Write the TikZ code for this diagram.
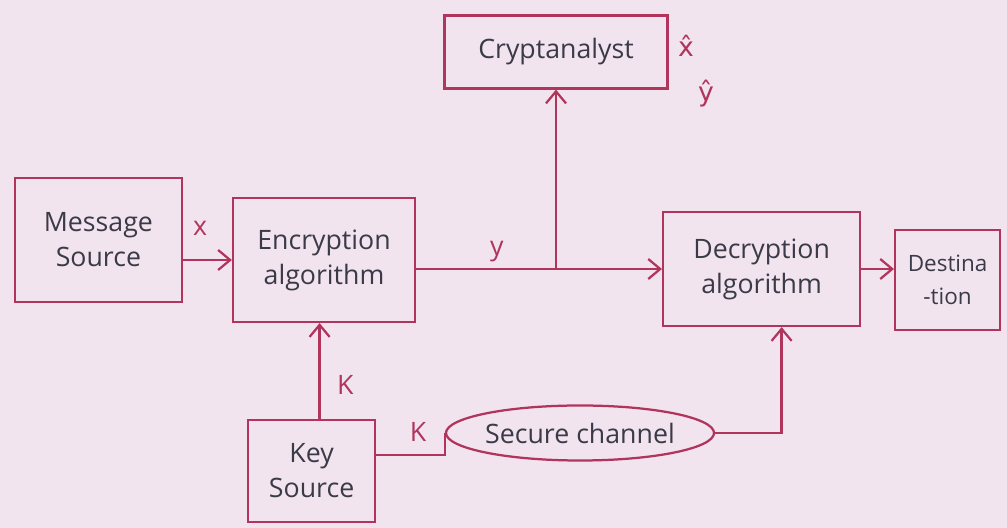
\documentclass[tikz,border=0pt]{standalone}
\usepackage{fontspec}
\setmainfont{Open Sans}
\newfontfamily\hatfont{DejaVu Sans}
\usepackage{tikz}
\usetikzlibrary{arrows.meta,shapes.geometric}
\definecolor{inkred}{RGB}{176,52,92}
\definecolor{inkgray}{RGB}{58,58,72}
\definecolor{paper}{RGB}{242,228,238}

\begin{document}
\begin{tikzpicture}[x=1cm,y=1cm,
    blockbox/.style={draw=inkred, line width=1.6pt, text=inkgray, align=center, inner sep=0pt,
        font=\fontsize{19}{25}\selectfont},
    wire/.style={draw=inkred, line width=1.6pt},
    arr/.style={wire, -{Straight Barb[length=3mm,width=5mm]}},
    lbl/.style={text=inkred, inner sep=1pt, font=\fontsize{19}{22}\selectfont}]
            \fill[paper] (0,0) rectangle (25.175,13.2);
            \node[blockbox, minimum width=5.575cm, minimum height=1.825cm] (crypt) at (13.9,11.9) {Cryptanalyst};
            \node[blockbox, minimum width=4.175cm, minimum height=3.1cm] (msg) at (2.46,7.2) {Message\\Source};
            \node[blockbox, minimum width=4.55cm, minimum height=3.1cm] (enc) at (8.1,6.7) {Encryption\\algorithm};
            \node[blockbox, minimum width=4.925cm, minimum height=2.85cm] (dec) at (19.04,6.475) {Decryption\\algorithm};
            \node[blockbox, minimum width=2.625cm, minimum height=2.5cm, font=\fontsize{16}{23}\selectfont] (dest) at (23.69,6.2) {Destina\\-tion};
            \node[blockbox, minimum width=3.175cm, minimum height=2.55cm] (key) at (7.79,1.425) {Key\\Source};
            \node[blockbox, ellipse, minimum width=6cm, minimum height=1.375cm] (chan) at (14.5,2.375) {Secure channel};

            \draw[arr] (msg.east |- enc.west) -- (enc.west);
            \draw[arr] (enc.east |- dec.west) -- (dec.west);
            \draw[arr] (crypt.south |- dec.west) -- (crypt.south);
            \draw[arr] (dec.east) -- (dec.east -| dest.west);
            \draw[arr] ([xshift=0.2cm]key.north) -- ([xshift=0.2cm]key.north |- enc.south);
            \draw[wire] ([yshift=0.4cm]key.east) -| (chan.west);
            \draw[arr] (chan.east) -| ([xshift=0.5cm]dec.south);

            \node[lbl] (xin) at (5.0,7.5) {x};
            \node[lbl] (yout) at (12.42,6.9) {y};
            \node[lbl] (kenc) at (8.63,3.58) {K};
            \node[lbl] (kchan) at (10.45,2.4) {K};
            \node[lbl, font=\hatfont\fontsize{19}{22}\selectfont] (xhat) at (17.15,12.05) {x̂};
            \node[lbl, font=\hatfont\fontsize{19}{22}\selectfont] (yhat) at (17.65,10.85) {ŷ};
        \end{tikzpicture}
\end{document}
